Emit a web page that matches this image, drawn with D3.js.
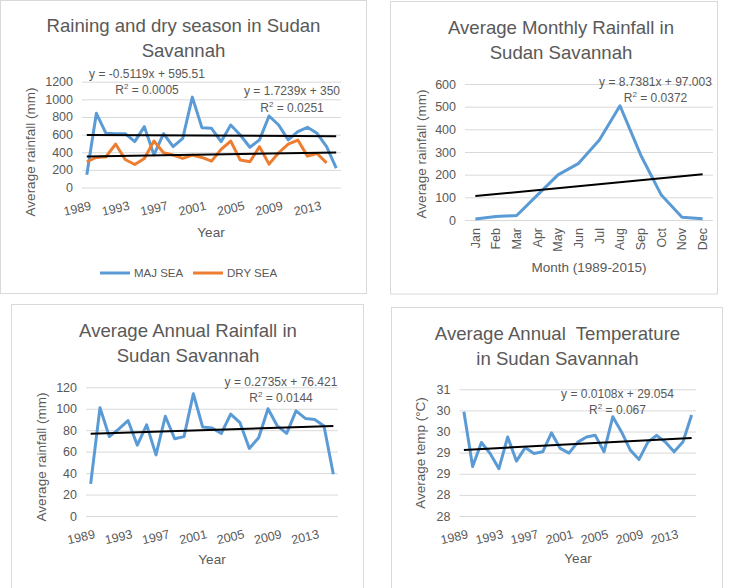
<!DOCTYPE html>
<html>
<head>
<meta charset="utf-8">
<script src="https://cdn.jsdelivr.net/npm/d3@7"></script>
<style>
  body { margin: 0; background: #fff; }
  text { font-family: "Liberation Sans", Arial, sans-serif; fill: #595959; }
</style>
</head>
<body>
<svg id="chart" width="731" height="588"></svg>
<script>
// categories
var years = [1989, 1990, 1991, 1992, 1993, 1994, 1995, 1996, 1997, 1998, 1999, 2000, 2001, 2002,
             2003, 2004, 2005, 2006, 2007, 2008, 2009, 2010, 2011, 2012, 2013, 2014, 2015];
var yearTicks = [1989, 1993, 1997, 2001, 2005, 2009, 2013];
var months = ["Jan", "Feb", "Mar", "Apr", "May", "Jun", "Jul", "Aug", "Sep", "Oct", "Nov", "Dec"];

// series values
var majSea = [145, 841, 615, 610, 610, 520, 690, 370, 610, 464, 558, 1025, 679, 672,
              520, 709, 596, 457, 540, 811, 709, 540, 634, 683, 615, 464, 219];
var drySea = [292, 341, 349, 493, 318, 261, 330, 527, 394, 368, 330, 368, 341, 299,
              432, 527, 311, 292, 462, 265, 394, 493, 538, 356, 386, 280];
var monthlyRain = [4, 15, 20, 110, 199, 250, 353, 504, 287, 110, 12, 6];
var annualRain = [30, 101, 74, 81, 89, 66, 85, 57, 93, 72, 74, 114, 83, 82,
                  77, 95, 87, 63, 73, 100, 84, 77, 98, 91, 90, 84, 39];
var annualTemp = [29.97, 28.67, 29.24, 28.98, 28.62, 29.37, 28.80, 29.12, 28.98, 29.02, 29.47, 29.10, 28.99, 29.25,
                  29.37, 29.41, 29.02, 29.85, 29.49, 29.06, 28.84, 29.25, 29.41, 29.25, 29.02, 29.25, 29.89];

// y tick values
var ticksSeason = [0, 200, 400, 600, 800, 1000, 1200];
var ticksMonthly = [0, 100, 200, 300, 400, 500, 600];
var ticksAnnual = [0, 20, 40, 60, 80, 100, 120];
var ticksTemp = [27.5, 28, 28.5, 29, 29.5, 30, 30.5];

var blue = "#5b9bd5", orange = "#ed7d31";

var svg = d3.select("#chart");

function panel(o) {
    var g = svg.append("g");

    // chart box
    g.append("rect")
        .attr("x", o.box[0]).attr("y", o.box[1])
        .attr("width", o.box[2]).attr("height", o.box[3])
        .attr("fill", "#fff").attr("stroke", "#d9d9d9");

    var x = d3.scalePoint()
        .domain(o.cats)
        .range([o.left, o.right])
        .padding(0.5);
    var y = d3.scaleLinear()
        .domain([o.yTicks[0], o.yTicks[o.yTicks.length - 1]])
        .range([o.bottom, o.top]);

    // gridlines
    g.append("g")
        .attr("transform", "translate(" + o.left + ",0)")
        .call(d3.axisLeft(y).tickValues(o.yTicks).tickSize(-(o.right - o.left)).tickFormat(""))
        .call(function (a) { a.select(".domain").remove(); })
        .selectAll("line").attr("stroke", "#d9d9d9");

    // y labels
    g.append("g")
        .attr("transform", "translate(" + (o.left - 9) + ",0)")
        .call(d3.axisLeft(y).tickValues(o.yTicks).tickSize(0).tickFormat(o.yFormat || d3.format("d")))
        .call(function (a) { a.select(".domain").remove(); })
        .selectAll("text")
        .attr("x", 0)
        .style("font-size", "12.5px")
        .style("font-family", "Liberation Sans, Arial, sans-serif")
        .attr("fill", "#595959");

    // x labels
    var xl = g.append("g").selectAll("text")
        .data(o.xTicks)
        .enter().append("text")
        .style("font-size", "12.5px")
        .attr("text-anchor", "end");
    if (o.vertical) {
        xl.attr("transform", function (d) {
                return "translate(" + x(d) + "," + (o.bottom + 8) + ") rotate(-90)";
            })
            .attr("dy", "0.35em")
            .text(function (d) { return d; });
    } else {
        xl.attr("transform", function (d) {
                return "translate(" + (x(d) + 5) + "," + (o.bottom + 22) + ") rotate(-13)";
            })
            .text(function (d) { return d; });
    }

    // series
    var line = d3.line()
        .x(function (d, i) { return x(o.cats[i]); })
        .y(function (d) { return y(d); });
    o.series.forEach(function (s) {
        g.append("path")
            .datum(s.values)
            .attr("d", line)
            .attr("fill", "none")
            .attr("stroke", s.color)
            .attr("stroke-width", 3)
            .attr("stroke-linejoin", "round");
    });

    // linear trend lines, drawn over the series like Excel does
    o.trends.forEach(function (t) {
        var n = o.cats.length;
        g.append("line")
            .attr("x1", x(o.cats[0])).attr("y1", y(t.m * 1 + t.b))
            .attr("x2", x(o.cats[n - 1])).attr("y2", y(t.m * n + t.b))
            .attr("stroke", "#000").attr("stroke-width", 2);
        g.append("text")
            .attr("x", t.lx).attr("y", t.ly)
            .attr("text-anchor", "middle")
            .style("font-size", "12px")
            .text(t.eq);
        var r = g.append("text")
            .attr("x", t.lx).attr("y", t.ly + 16.5)
            .attr("text-anchor", "middle")
            .style("font-size", "12px");
        r.append("tspan").text("R");
        r.append("tspan").attr("dy", -5).style("font-size", "8px").text("2");
        r.append("tspan").attr("dy", 5).text(" = " + t.r2);
    });

    // title
    o.title.forEach(function (s, i) {
        g.append("text")
            .attr("x", o.titleX).attr("y", o.titleY + i * 25.7)
            .attr("text-anchor", "middle")
            .style("font-size", "18.6px")
            .style("white-space", "pre")
            .text(s);
    });

    // axis titles
    g.append("text")
        .attr("transform", "translate(" + o.yTitle[0] + "," + o.yTitle[1] + ") rotate(-90)")
        .attr("text-anchor", "middle")
        .style("font-size", "13.5px")
        .text(o.yLabel);
    g.append("text")
        .attr("x", o.xTitle[0]).attr("y", o.xTitle[1])
        .attr("text-anchor", "middle")
        .style("font-size", "13.5px")
        .text(o.xLabel);

    return g;
}

// 1. raining and dry season
var g1 = panel({
    box: [0.5, 0.5, 366, 293],
    left: 82, right: 341, top: 81.7, bottom: 187.5,
    cats: years, xTicks: yearTicks, yTicks: ticksSeason,
    series: [{values: majSea, color: blue}, {values: drySea, color: orange}],
    trends: [
        {m: -0.5119, b: 595.51, eq: "y = -0.5119x + 595.51", r2: "0.0005", lx: 147, ly: 77.5},
        {m: 1.7239, b: 350, eq: "y = 1.7239x + 350", r2: "0.0251", lx: 292, ly: 95}
    ],
    title: ["Raining and dry season in Sudan", "Savannah"], titleX: 183.5, titleY: 31.5,
    yLabel: "Average rainfall (mm)", yTitle: [35, 152],
    xLabel: "Year", xTitle: [211, 237]
});

// legend
var legend = [{name: "MAJ SEA", color: blue, x: 100}, {name: "DRY SEA", color: orange, x: 193}];
legend.forEach(function (l) {
    g1.append("line")
        .attr("x1", l.x).attr("x2", l.x + 30)
        .attr("y1", 273).attr("y2", 273)
        .attr("stroke", l.color).attr("stroke-width", 3);
    g1.append("text")
        .attr("x", l.x + 34).attr("y", 277)
        .style("font-size", "11.5px")
        .text(l.name);
});

// 2. monthly rainfall
panel({
    box: [390.5, 1.5, 327, 292.5],
    left: 465, right: 713, top: 84, bottom: 220,
    cats: months, xTicks: months, yTicks: ticksMonthly, vertical: true,
    series: [{values: monthlyRain, color: blue}],
    trends: [
        {m: 8.7381, b: 97.003, eq: "y = 8.7381x + 97.003", r2: "0.0372", lx: 655.5, ly: 85.5}
    ],
    title: ["Average Monthly Rainfall in", "Sudan Savannah"], titleX: 561, titleY: 33.5,
    yLabel: "Average rainfall (mm)", yTitle: [426, 154],
    xLabel: "Month (1989-2015)", xTitle: [589, 271.5]
});

// 3. annual rainfall
panel({
    box: [11.5, 304.5, 352, 300],
    left: 86, right: 338, top: 387.3, bottom: 516,
    cats: years, xTicks: yearTicks, yTicks: ticksAnnual,
    series: [{values: annualRain, color: blue}],
    trends: [
        {m: 0.2735, b: 76.421, eq: "y = 0.2735x + 76.421", r2: "0.0144", lx: 281, ly: 385.5}
    ],
    title: ["Average Annual Rainfall in", "Sudan Savannah"], titleX: 188, titleY: 336.5,
    yLabel: "Average rainfall (mm)", yTitle: [46, 457],
    xLabel: "Year", xTitle: [212, 564]
});

// 4. annual temperature
panel({
    box: [391.5, 307.5, 331, 300],
    left: 459.5, right: 696, top: 389.3, bottom: 516,
    cats: years, xTicks: yearTicks, yTicks: ticksTemp,
    yFormat: function (d) { return Math.round(d); },
    series: [{values: annualTemp, color: blue}],
    trends: [
        {m: 0.0108, b: 29.054, eq: "y = 0.0108x + 29.054", r2: "0.067", lx: 617.5, ly: 397.5}
    ],
    title: ["Average Annual  Temperature", "in Sudan Savannah"], titleX: 557.5, titleY: 339.5,
    yLabel: "Average temp (°C)", yTitle: [425, 453],
    xLabel: "Year", xTitle: [578, 563]
});
</script>
</body>
</html>
